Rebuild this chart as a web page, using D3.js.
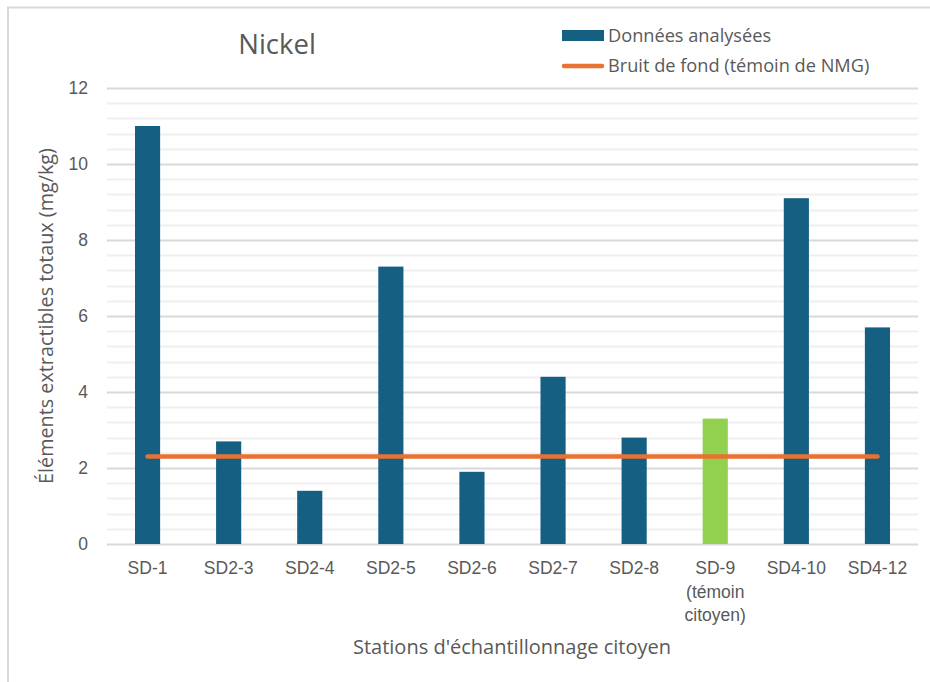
<!DOCTYPE html>
<html lang="fr">
<head>
<meta charset="utf-8">
<script src="https://cdn.jsdelivr.net/npm/d3@7"></script>
<style>
  html, body { margin: 0; padding: 0; background: #fff; }
  svg { display: block; font-family: "Open Sans", "Noto Sans", sans-serif; }
</style>
</head>
<body>
<svg id="chart" width="930" height="682"></svg>
<script>
// Stations et teneurs en nickel (mg/kg)
const stations = ["SD-1", "SD2-3", "SD2-4", "SD2-5", "SD2-6", "SD2-7", "SD2-8", "SD-9\n(témoin\ncitoyen)", "SD4-10", "SD4-12"];
const nickelValues = [11.0, 2.7, 1.4, 7.3, 1.9, 4.4, 2.8, 3.3, 9.1, 5.7];
const citizenControl = "SD-9\n(témoin\ncitoyen)";
const backgroundLevel = 2.3;
const yTicks = [0, 2, 4, 6, 8, 10, 12];
const yMinorTicks = d3.range(0, 12.0001, 0.4);

const seriesLabels = ["Données analysées", "Bruit de fond (témoin de NMG)"];
const chartTitle = "Nickel";
const xTitle = "Stations d'échantillonnage citoyen";
const yTitle = "Éléments extractibles totaux (mg/kg)";

const blue = "#156082", green = "#92D050", orange = "#E97132", textGray = "#595959";

const svg = d3.select("#chart");
const plot = { left: 107, right: 918, top: 88, bottom: 544 };

// Cadre du graphique
svg.append("rect")
  .attr("x", 8).attr("y", 7.5).attr("width", 940).attr("height", 700)
  .attr("fill", "none").attr("stroke", "#d9d9d9").attr("stroke-width", 2);

const x = d3.scaleBand().domain(stations)
  .range([plot.left, plot.right]).paddingInner(0.69).paddingOuter(0.345);
const y = d3.scaleLinear().domain([0, 12]).range([plot.bottom, plot.top]);

// Quadrillage secondaire puis principal
svg.append("g").selectAll("line").data(yMinorTicks.filter(v => yTicks.indexOf(Math.round(v * 10) / 10) < 0))
  .join("line")
  .attr("x1", plot.left).attr("x2", plot.right)
  .attr("y1", d => Math.round(y(d)) + 0.5).attr("y2", d => Math.round(y(d)) + 0.5)
  .attr("stroke", "#efefef").attr("stroke-width", 2);

const yAxis = svg.append("g")
  .attr("transform", `translate(${plot.left},0)`)
  .call(d3.axisLeft(y).tickValues(yTicks).tickSize(-(plot.right - plot.left)).tickPadding(19).tickFormat(d3.format("d")));
yAxis.select(".domain").remove();
yAxis.selectAll(".tick line").attr("stroke", "#d9d9d9").attr("stroke-width", 2);
yAxis.selectAll(".tick text").attr("fill", textGray).attr("font-size", 17.5);

// Barres
svg.append("g").selectAll("rect").data(stations)
  .join("rect")
  .attr("x", d => x(d))
  .attr("width", x.bandwidth())
  .attr("y", (d, i) => y(nickelValues[i]))
  .attr("height", (d, i) => y(0) - y(nickelValues[i]))
  .attr("fill", d => d === citizenControl ? green : blue);

// Bruit de fond
const bgLine = d3.line().x(d => x(d) + x.bandwidth() / 2).y(() => y(backgroundLevel));
svg.append("path")
  .datum([stations[0], stations[stations.length - 1]])
  .attr("d", bgLine)
  .attr("stroke", orange).attr("stroke-width", 4.5).attr("stroke-linecap", "round").attr("fill", "none");

// Étiquettes de l'axe X
const xAxis = svg.append("g")
  .attr("transform", `translate(0,${plot.bottom})`)
  .call(d3.axisBottom(x).tickSize(0).tickFormat(""));
xAxis.select(".domain").remove();
xAxis.selectAll(".tick").each(function (d) {
  const t = d3.select(this).append("text")
    .attr("fill", textGray).attr("font-size", 17.5).attr("text-anchor", "middle");
  d.split("\n").forEach((line, i) => {
    t.append("tspan").attr("x", 0).attr("y", 30 + i * 23.5).text(line);
  });
});

// Titres
svg.append("text").attr("x", 277).attr("y", 54).attr("text-anchor", "middle")
  .attr("font-size", 27.5).attr("fill", textGray).text(chartTitle);
svg.append("text").attr("x", 512).attr("y", 654).attr("text-anchor", "middle")
  .attr("font-size", 20).attr("fill", textGray).text(xTitle);
svg.append("text").attr("transform", "translate(53,316) rotate(-90)").attr("text-anchor", "middle")
  .attr("font-size", 19.8).attr("fill", textGray).text(yTitle);

// Légende
const legend = svg.append("g");
legend.append("rect").attr("x", 562).attr("y", 30).attr("width", 42).attr("height", 11).attr("fill", blue);
legend.append("text").attr("x", 608).attr("y", 42).attr("font-size", 18.2).attr("fill", textGray).text(seriesLabels[0]);
legend.append("line").attr("x1", 564).attr("x2", 602).attr("y1", 66).attr("y2", 66)
  .attr("stroke", orange).attr("stroke-width", 4.5).attr("stroke-linecap", "round");
legend.append("text").attr("x", 608).attr("y", 72).attr("font-size", 18.2).attr("fill", textGray).text(seriesLabels[1]);
</script>
</body>
</html>
